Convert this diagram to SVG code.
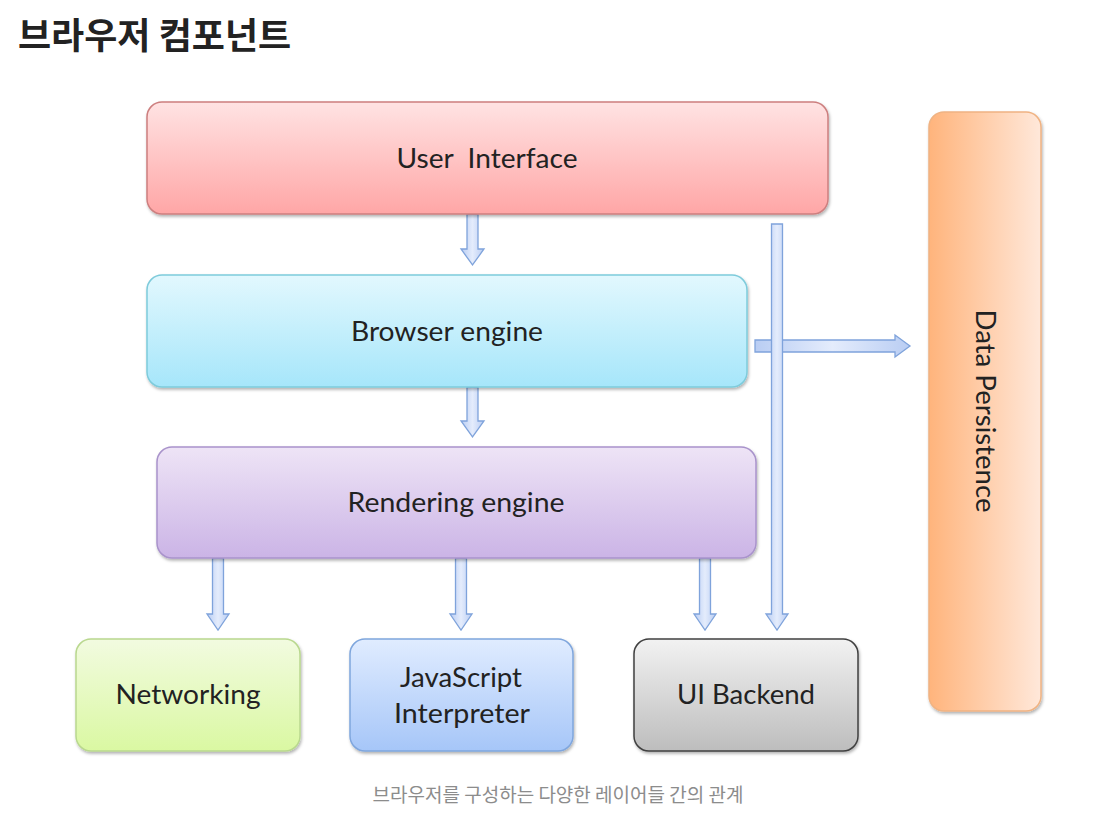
<svg xmlns="http://www.w3.org/2000/svg" width="1117" height="821" viewBox="0 0 1117 821">
<style>
.lbl{font-family:Lato,"Open Sans","Liberation Sans",sans-serif;font-size:27px;fill:#222;text-anchor:middle;white-space:pre}
.box{stroke-width:1.5;filter:url(#sh)}
.arr{fill:url(#ga);stroke:#7fa3db;stroke-width:1.3;stroke-linejoin:miter}
</style>
<defs>
<filter id="sh" x="-10%" y="-10%" width="120%" height="130%">
<feDropShadow dx="1" dy="2" stdDeviation="1.8" flood-color="#000" flood-opacity="0.3"/>
</filter>
<linearGradient id="gui" x1="0" y1="0" x2="0" y2="1"><stop offset="0" stop-color="#ffe3e3"/><stop offset="1" stop-color="#ffa6a6"/></linearGradient>
<linearGradient id="gbe" x1="0" y1="0" x2="0" y2="1"><stop offset="0" stop-color="#e2f8fe"/><stop offset="1" stop-color="#a6e6fa"/></linearGradient>
<linearGradient id="gre" x1="0" y1="0" x2="0" y2="1"><stop offset="0" stop-color="#eee4f6"/><stop offset="1" stop-color="#cbb4e6"/></linearGradient>
<linearGradient id="gnw" x1="0" y1="0" x2="0" y2="1"><stop offset="0" stop-color="#f2fbe0"/><stop offset="1" stop-color="#daf8a2"/></linearGradient>
<linearGradient id="gjs" x1="0" y1="0" x2="0" y2="1"><stop offset="0" stop-color="#e0ecff"/><stop offset="1" stop-color="#a6c6f8"/></linearGradient>
<linearGradient id="gub" x1="0" y1="0" x2="0" y2="1"><stop offset="0" stop-color="#f2f2f2"/><stop offset="1" stop-color="#bdbdbd"/></linearGradient>
<linearGradient id="gdp" x1="0" y1="0" x2="1" y2="0"><stop offset="0" stop-color="#ffb47c"/><stop offset="1" stop-color="#ffe8da"/></linearGradient>
<linearGradient id="ga" x1="0" y1="0" x2="1" y2="0"><stop offset="0" stop-color="#b9cdf3"/><stop offset="0.5" stop-color="#e4ecfc"/><stop offset="1" stop-color="#b9cdf3"/></linearGradient>
</defs>
<rect width="1117" height="821" fill="#fff"/>
<text x="18" y="49" font-family="'Noto Sans CJK KR',sans-serif" font-weight="700" font-size="36" fill="#222">브라우저 컴포넌트</text>

<g id="connectors">
<path class="arr" d="M755,340 H895 V335 L910,346 L895,357 V352 H755 Z"/>
<path class="arr" d="M771.5,224 H782.5 V614 H788 L777,630 L766,614 H771.5 Z"/>
<path class="arr" d="M467,214 H478 V249 H484 L472.5,265 L461,249 H467 Z"/>
<path class="arr" d="M467,387 H478 V421 H484 L472.5,437 L461,421 H467 Z"/>
<path class="arr" d="M212.5,558 H223.5 V614 H229 L218,630 L207,614 H212.5 Z"/>
<path class="arr" d="M455.5,558 H466.5 V614 H472 L461,630 L450,614 H455.5 Z"/>
<path class="arr" d="M699.5,558 H710.5 V614 H716 L705,630 L694,614 H699.5 Z"/>
</g>

<g id="user-interface">
<rect class="box" x="147" y="102" width="681" height="112" rx="15" fill="url(#gui)" stroke="#cd7f7f"/>
<text class="lbl" x="487" y="168" textLength="181" lengthAdjust="spacingAndGlyphs">User  Interface</text>
</g>
<g id="browser-engine">
<rect class="box" x="147" y="275" width="600" height="112" rx="15" fill="url(#gbe)" stroke="#7ecbdb"/>
<text class="lbl" x="447" y="341" textLength="192" lengthAdjust="spacingAndGlyphs">Browser engine</text>
</g>
<g id="rendering-engine">
<rect class="box" x="157" y="447" width="599" height="111" rx="15" fill="url(#gre)" stroke="#a993cb"/>
<text class="lbl" x="456" y="512" textLength="217" lengthAdjust="spacingAndGlyphs">Rendering engine</text>
</g>
<g id="networking">
<rect class="box" x="76" y="639" width="224" height="112" rx="15" fill="url(#gnw)" stroke="#b9d88e"/>
<text class="lbl" x="188" y="704" textLength="145" lengthAdjust="spacingAndGlyphs">Networking</text>
</g>
<g id="javascript-interpreter">
<rect class="box" x="350" y="639" width="223" height="112" rx="15" fill="url(#gjs)" stroke="#7fa6dd"/>
<text class="lbl" x="461" y="687" textLength="122" lengthAdjust="spacingAndGlyphs">JavaScript</text>
<text class="lbl" x="462" y="723" textLength="136" lengthAdjust="spacingAndGlyphs">Interpreter</text>
</g>
<g id="ui-backend">
<rect class="box" x="634" y="639" width="224" height="112" rx="15" fill="url(#gub)" stroke="#404040"/>
<text class="lbl" x="746" y="704" textLength="138" lengthAdjust="spacingAndGlyphs">UI Backend</text>
</g>
<g id="data-persistence">
<rect class="box" x="929" y="112" width="112" height="599" rx="15" fill="url(#gdp)" stroke="#f0b383"/>
<text class="lbl" x="0" y="0" transform="translate(976,411) rotate(90)" textLength="203" lengthAdjust="spacingAndGlyphs">Data Persistence</text>
</g>

<text x="558" y="802" text-anchor="middle" font-family="'Noto Sans CJK KR',sans-serif" font-size="19" fill="#8c8c8c">브라우저를 구성하는 다양한 레이어들 간의 관계</text>
</svg>
